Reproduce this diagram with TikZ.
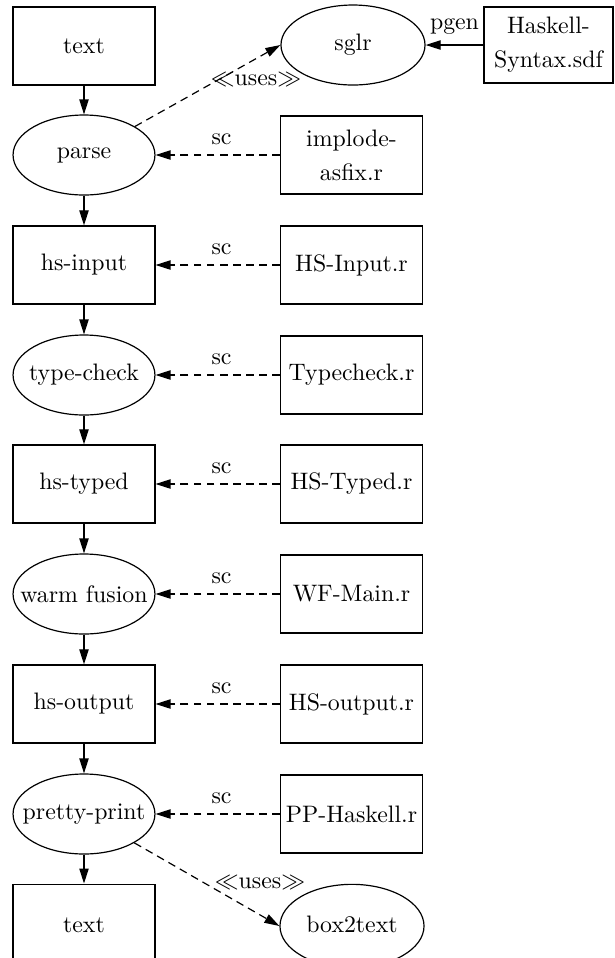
\documentclass[tikz,border=0pt]{standalone}
\usepackage{fontspec}
\usetikzlibrary{shapes.geometric,arrows.meta}
\newcommand\zw[1]{\makebox[0pt]{#1}}
\tikzset{
  boxnode/.style={draw, line width=0.5pt, rectangle, inner sep=0pt, minimum width=59.6pt, minimum height=32.8pt, align=center},
  ellnode/.style={draw, line width=0.5pt, ellipse, inner sep=0pt, minimum width=59.6pt, minimum height=33.6pt},
  flow/.style={line width=0.5pt, -{Triangle[length=6.3pt,width=3.9pt]}},
  scarrow/.style={flow, dash pattern=on 3.3pt off 2.2pt},
  lbl/.style={inner sep=0pt}
}
\begin{document}
\begin{tikzpicture}[x=0.42pt,y=-0.42pt]
\useasboundingbox (0,0) rectangle (614,958);
% left column
\node[boxnode] (t1) at (84,46) {text};
\node[ellnode] (parse) at (84,155) {\zw{parse}};
\node[boxnode] (hsin) at (84,265) {hs-input};
\node[ellnode] (tc) at (84,375) {\zw{type-check}};
\node[boxnode] (hst) at (84,484) {hs-typed};
\node[ellnode] (wf) at (84,594) {\zw{warm fusion}};
\node[boxnode] (hso) at (84,704) {hs-output};
\node[ellnode] (pp) at (84,814) {\zw{pretty-print}};
\node[boxnode, minimum height=36pt] (t2) at (84,927) {\raisebox{1.5pt}{text}};
% right column
\node[ellnode, minimum width=60.5pt] (sglr) at (353,45) {\zw{sglr}};
\node[boxnode, minimum width=54.2pt, minimum height=31.9pt] (hsdf) at (548.5,45) {Haskell-\\[2.3pt]Syntax.sdf};
\node[boxnode] (r1) at (351.5,155) {implode-\\[2.3pt]asfix.r};
\node[boxnode] (r2) at (351.5,265) {HS-Input.r};
\node[boxnode] (r3) at (351.5,375) {Typecheck.r};
\node[boxnode] (r4) at (351.5,484) {HS-Typed.r};
\node[boxnode] (r5) at (351.5,594) {WF-Main.r};
\node[boxnode] (r6) at (351.5,704) {HS-output.r};
\node[boxnode] (r7) at (351.5,814) {PP-Haskell.r};
\node[ellnode, minimum width=60.5pt, minimum height=35pt] (b2t) at (352,926) {\zw{\raisebox{1.2pt}{box2text}}};
% main flow
\draw[flow] (t1) -- (parse);
\draw[flow] (parse) -- (hsin);
\draw[flow] (hsin) -- (tc);
\draw[flow] (tc) -- (hst);
\draw[flow] (hst) -- (wf);
\draw[flow] (wf) -- (hso);
\draw[flow] (hso) -- (pp);
\draw[flow] (pp) -- (t2);
% sc arrows
\draw[scarrow] (r1.west) -- node[lbl, pos=0.47, yshift=6.7pt] {sc} (parse.east);
\draw[scarrow] (r2.west) -- node[lbl, pos=0.47, yshift=6.7pt] {sc} (hsin.east);
\draw[scarrow] (r3.west) -- node[lbl, pos=0.47, yshift=6.7pt] {sc} (tc.east);
\draw[scarrow] (r4.west) -- node[lbl, pos=0.47, yshift=6.7pt] {sc} (hst.east);
\draw[scarrow] (r5.west) -- node[lbl, pos=0.47, yshift=6.7pt] {sc} (wf.east);
\draw[scarrow] (r6.west) -- node[lbl, pos=0.47, yshift=6.7pt] {sc} (hso.east);
\draw[scarrow] (r7.west) -- node[lbl, pos=0.47, yshift=6.7pt] {sc} (pp.east);
% pgen
\draw[flow] (hsdf.west) -- node[lbl, pos=0.5, yshift=7.6pt] {pgen} (sglr.east);
% uses
\draw[scarrow] (parse) -- (sglr.west);
\node[lbl] (u1) at (256,80) {$\ll$uses$\gg$};
\draw[scarrow] (pp) -- (b2t.west);
\node[lbl] (u2) at (260,883) {$\ll$uses$\gg$};
\end{tikzpicture}
\end{document}
